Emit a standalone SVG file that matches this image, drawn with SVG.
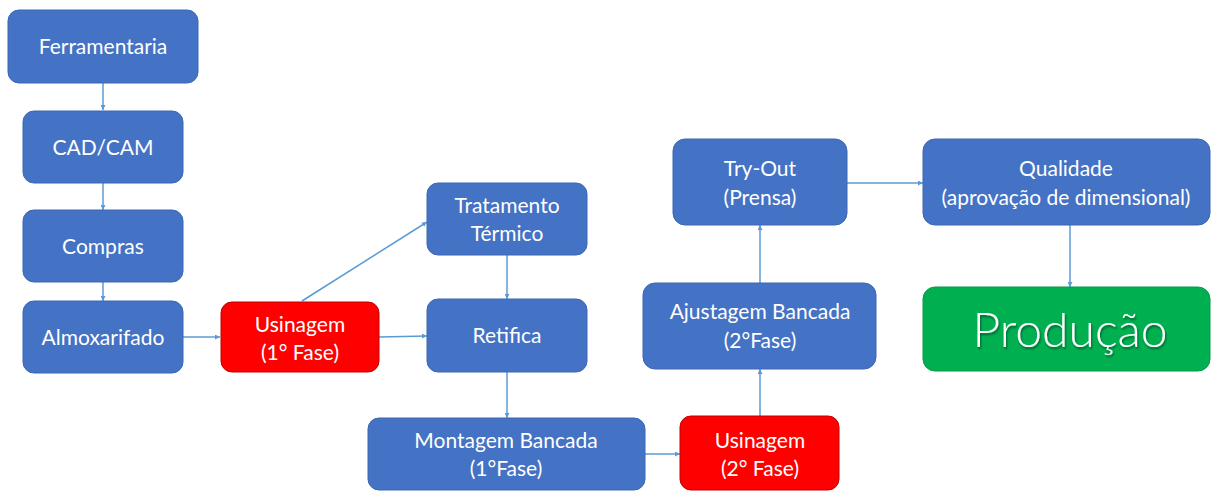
<svg xmlns="http://www.w3.org/2000/svg" width="1212" height="492" viewBox="0 0 1212 492">
<style>
.b{fill:#4472C4;stroke:#3C66B4;stroke-width:1}
.r{fill:#FF0000;stroke:#C00000;stroke-width:1}
.g{fill:#00B050;stroke:#0A9A48;stroke-width:1}
text{font-family:Lato,"Open Sans","Liberation Sans",sans-serif;font-size:21px;fill:#FFFFFF;text-anchor:middle}
.big{font-size:48px;font-weight:300}
.c line{stroke:#5B9BD5;stroke-width:1.5;marker-end:url(#ah)}
</style>
<defs>
<marker id="ah" viewBox="0 0 8 8" refX="8" refY="4" markerWidth="5" markerHeight="5" orient="auto" markerUnits="userSpaceOnUse">
<path d="M0,0 L8,4 L0,8 z" fill="#5B9BD5"/>
</marker>
<filter id="sh" x="-10%" y="-10%" width="120%" height="130%">
<feDropShadow dx="1" dy="2" stdDeviation="1" flood-color="#000" flood-opacity="0.45"/>
</filter>
</defs>
<rect width="1212" height="492" fill="#FFFFFF"/>
<g class="c" id="connectors">
<line x1="103" y1="83" x2="103" y2="110"/>
<line x1="103" y1="183" x2="103" y2="210"/>
<line x1="103" y1="282" x2="103" y2="301"/>
<line x1="183" y1="337" x2="220" y2="337"/>
<line x1="302" y1="301" x2="427" y2="222"/>
<line x1="379" y1="337" x2="427" y2="336"/>
<line x1="507" y1="255" x2="507" y2="299"/>
<line x1="507" y1="372" x2="507" y2="418"/>
<line x1="645" y1="454" x2="680" y2="454"/>
<line x1="760" y1="416" x2="760" y2="369"/>
<line x1="760" y1="283" x2="760" y2="225"/>
<line x1="847" y1="183" x2="923" y2="183"/>
<line x1="1070" y1="225" x2="1070" y2="287"/>
</g>
<g id="ferramentaria"><rect class="b" x="8" y="10" width="190" height="73" rx="11"/><text x="103" y="54">Ferramentaria</text></g>
<g id="cadcam"><rect class="b" x="23" y="111" width="160" height="72" rx="11"/><text x="103" y="155">CAD/CAM</text></g>
<g id="compras"><rect class="b" x="23" y="210" width="160" height="72" rx="11"/><text x="103" y="254">Compras</text></g>
<g id="almoxarifado"><rect class="b" x="23" y="301" width="160" height="72" rx="11"/><text x="103" y="345">Almoxarifado</text></g>
<g id="usinagem1"><rect class="r" x="221" y="302" width="158" height="70" rx="11"/><text x="300" y="332">Usinagem</text><text x="300" y="360">(1° Fase)</text></g>
<g id="tratamento"><rect class="b" x="427" y="183" width="160" height="72" rx="11"/><text x="507" y="213">Tratamento</text><text x="507" y="241">Térmico</text></g>
<g id="retifica"><rect class="b" x="427" y="299" width="160" height="73" rx="11"/><text x="507" y="343">Retifica</text></g>
<g id="montagem"><rect class="b" x="368" y="418" width="277" height="72" rx="11"/><text x="506" y="448">Montagem Bancada</text><text x="506" y="476">(1°Fase)</text></g>
<g id="usinagem2"><rect class="r" x="680" y="416" width="159" height="74" rx="11"/><text x="760" y="448">Usinagem</text><text x="760" y="476">(2° Fase)</text></g>
<g id="ajustagem"><rect class="b" x="643" y="283" width="233" height="86" rx="12"/><text x="760" y="319">Ajustagem Bancada</text><text x="760" y="348">(2°Fase)</text></g>
<g id="tryout"><rect class="b" x="673" y="139" width="174" height="86" rx="12"/><text x="760" y="176">Try-Out</text><text x="760" y="205">(Prensa)</text></g>
<g id="qualidade"><rect class="b" x="923" y="139" width="287" height="86" rx="12"/><text x="1066" y="176">Qualidade</text><text x="1066" y="205">(aprovação de dimensional)</text></g>
<g id="producao"><rect class="g" x="923" y="287" width="287" height="84" rx="12"/><text class="big" x="1070" y="347" filter="url(#sh)">Produção</text></g>
</svg>
